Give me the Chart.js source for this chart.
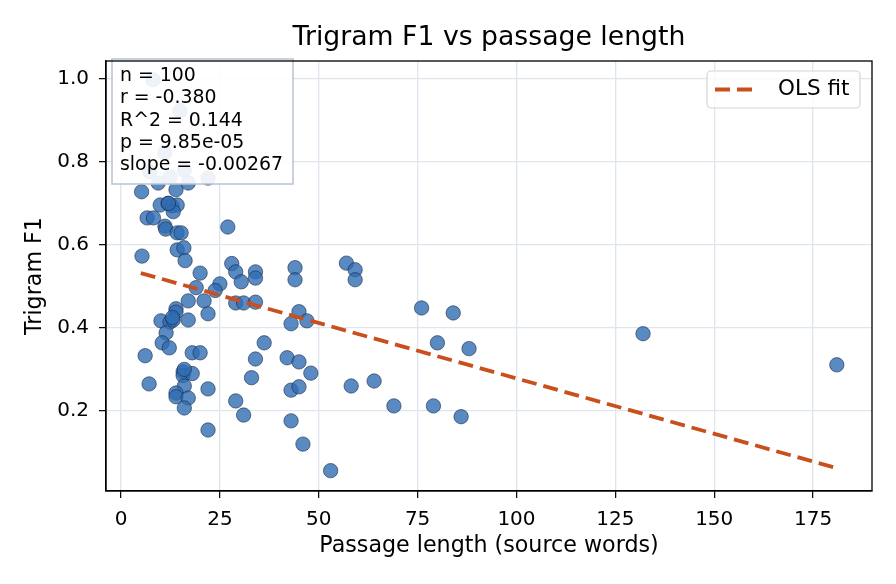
<!DOCTYPE html>
<html>
<head>
<meta charset="utf-8">
<script src="https://cdn.jsdelivr.net/npm/chart.js@4.4.0/dist/chart.umd.min.js"></script>
<style>
  html, body { margin: 0; padding: 0; background: #fff; }
  #wrap { width: 896px; height: 584px; }
</style>
</head>
<body>
<div id="wrap"><canvas id="graphCanvas" width="896" height="584"></canvas></div>
<script>
// passage length (source words) and trigram F1
var lengths = [8.1, 14.9, 11.1, 7.3, 12.4, 16, 22, 5.2, 9.4, 13.9,
               17, 9.9, 11.9, 12.9, 14.2, 13.2, 6.6, 8.2, 11.1, 11.3,
               14.2, 15.2, 27, 14.2, 15.9, 5.3, 16.2, 20, 28, 29,
               30.4, 34, 34, 19, 25, 23.8, 17, 21, 29, 31,
               34, 13.9, 13.9, 22, 10.1, 12.4, 13.2, 17, 11.4, 10.4,
               12.2, 6.1, 18, 20, 15.7, 15.7, 18, 7.1, 16, 13.9,
               13.9, 17, 16, 22, 22, 44, 44, 57, 59.2, 59.2,
               45, 47, 43, 36.2, 34, 33, 29, 31, 42, 45,
               48, 43, 45, 43, 46, 53, 58.2, 64, 69, 79,
               86, 76, 84, 80, 88, 132, 181, 13, 16, 12];
var f1s = [0.998, 0.923, 0.822, 0.776, 0.764, 0.78, 0.761, 0.728, 0.749, 0.733,
           0.749, 0.696, 0.70, 0.694, 0.696, 0.68, 0.665, 0.665, 0.645, 0.638,
           0.629, 0.629, 0.643, 0.588, 0.593, 0.573, 0.562, 0.532, 0.555, 0.535,
           0.511, 0.535, 0.52, 0.497, 0.506, 0.49, 0.465, 0.465, 0.46, 0.46,
           0.462, 0.446, 0.438, 0.434, 0.417, 0.414, 0.419, 0.419, 0.388, 0.364,
           0.352, 0.333, 0.34, 0.34, 0.294, 0.285, 0.29, 0.265, 0.26, 0.243,
           0.234, 0.231, 0.207, 0.253, 0.154, 0.545, 0.516, 0.556, 0.54, 0.516,
           0.439, 0.417, 0.41, 0.364, 0.325, 0.28, 0.224, 0.19, 0.328, 0.318,
           0.291, 0.25, 0.258, 0.176, 0.12, 0.056, 0.26, 0.272, 0.212, 0.212,
           0.186, 0.448, 0.436, 0.364, 0.35, 0.386, 0.311, 0.425, 0.30, 0.70];

// OLS fit line end points
var fitX = [5, 181];
var fitY = [0.532, 0.062];

var xTicks = [0, 25, 50, 75, 100, 125, 150, 175];
var yTicks = [0.2, 0.4, 0.6, 0.8, 1.0];

var titleText = "Trigram F1 vs passage length";
var statsLines = ["n = 100", "r = -0.380", "R^2 = 0.144", "p = 9.85e-05", "slope = -0.00267"];
var legendLabel = "OLS fit";

var FONT = "'DejaVu Sans', Verdana, sans-serif";
var LINE_COLOR = '#c94f1c';

var pts = [];
for (var ii = 0; ii < lengths.length; ii++) {
  pts.push({x: lengths[ii], y: f1s[ii]});
}
var fitPts = [];
for (var jj = 0; jj < fitX.length; jj++) {
  fitPts.push({x: fitX[jj], y: fitY[jj]});
}

var boxesPlugin = {
  id: 'boxes',
  afterDraw: function(chart) {
    var ctx = chart.ctx;
    var a = chart.chartArea;
    ctx.save();
    // title, centred over the axes like matplotlib does
    ctx.fillStyle = '#000';
    ctx.font = '26.7px ' + FONT;
    ctx.textAlign = 'center';
    ctx.textBaseline = 'middle';
    ctx.fillText(titleText, (a.left + a.right) / 2, 38);
    // stats text box
    var bx = a.left + 6, by = a.top - 2, bw = 181, bh = 125;
    ctx.fillStyle = 'rgba(255,255,255,0.9)';
    ctx.fillRect(bx, by, bw, bh);
    ctx.strokeStyle = '#b7c3d3';
    ctx.lineWidth = 1.5;
    ctx.strokeRect(bx, by, bw, bh);
    ctx.fillStyle = '#000';
    ctx.font = '18.9px ' + FONT;
    ctx.textAlign = 'left';
    for (var k = 0; k < statsLines.length; k++) {
      ctx.fillText(statsLines[k], bx + 8, by + 17 + k * 22.3);
    }
    // legend
    var lx = 707, ly = 71, lw = 153, lh = 37, r = 4;
    ctx.beginPath();
    ctx.moveTo(lx + r, ly);
    ctx.arcTo(lx + lw, ly, lx + lw, ly + lh, r);
    ctx.arcTo(lx + lw, ly + lh, lx, ly + lh, r);
    ctx.arcTo(lx, ly + lh, lx, ly, r);
    ctx.arcTo(lx, ly, lx + lw, ly, r);
    ctx.closePath();
    ctx.fillStyle = 'rgba(255,255,255,0.8)';
    ctx.fill();
    ctx.strokeStyle = '#d4d4d4';
    ctx.lineWidth = 1.2;
    ctx.stroke();
    ctx.beginPath();
    ctx.setLineDash([15, 7]);
    ctx.strokeStyle = LINE_COLOR;
    ctx.lineWidth = 3.8;
    ctx.moveTo(715, 89.5);
    ctx.lineTo(753, 89.5);
    ctx.stroke();
    ctx.setLineDash([]);
    ctx.fillStyle = '#000';
    ctx.font = '21.5px ' + FONT;
    ctx.fillText(legendLabel, 778, 89.5);
    // spines
    ctx.strokeStyle = '#000';
    ctx.lineWidth = 1.3;
    ctx.strokeRect(a.left, a.top, a.right - a.left, a.bottom - a.top);
    ctx.restore();
  }
};

var graphTarget = document.getElementById('graphCanvas');
var scatterChart = new Chart(graphTarget, {
  type: 'scatter',
  data: {
    datasets: [
      {
        type: 'line',
        label: legendLabel,
        data: fitPts,
        borderColor: LINE_COLOR,
        borderWidth: 3.8,
        borderDash: [15, 7],
        pointRadius: 0,
        fill: false,
        order: 0
      },
      {
        label: 'passages',
        data: pts,
        backgroundColor: 'rgba(47,109,179,0.8)',
        borderColor: 'rgba(20,35,60,0.8)',
        borderWidth: 0.7,
        pointRadius: 7.2,
        order: 1
      }
    ]
  },
  plugins: [boxesPlugin],
  options: {
    responsive: false,
    animation: false,
    devicePixelRatio: 1,
    layout: { padding: { top: 61, right: 24, left: 0, bottom: 0 } },
    plugins: {
      legend: { display: false },
      tooltip: { enabled: false },
      title: { display: false }
    },
    scales: {
      x: {
        type: 'linear',
        min: -3.8,
        max: 189.9,
        afterBuildTicks: function(scale) {
          scale.ticks = xTicks.map(function(v) { return {value: v}; });
        },
        afterFit: function(scale) { scale.height = 93; },
        grid: { color: '#dfe5ee', lineWidth: 1.3, tickColor: '#000', tickLength: 7, tickWidth: 1.2 },
        border: { display: true, color: '#000', width: 1.3 },
        ticks: { color: '#000', padding: 10, font: { family: FONT, size: 20 } },
        title: {
          display: true,
          text: 'Passage length (source words)',
          color: '#000',
          font: { family: FONT, size: 22.2 },
          padding: { top: 0, bottom: 24 }
        }
      },
      y: {
        type: 'linear',
        min: 0.007,
        max: 1.043,
        afterBuildTicks: function(scale) {
          scale.ticks = yTicks.map(function(v) { return {value: v}; });
        },
        afterFit: function(scale) { scale.width = 106; },
        grid: { color: '#dfe5ee', lineWidth: 1.3, tickColor: '#000', tickLength: 7, tickWidth: 1.2 },
        border: { display: true, color: '#000', width: 1.3 },
        ticks: {
          color: '#000',
          padding: 10,
          font: { family: FONT, size: 20 },
          callback: function(v) { return v.toFixed(1); }
        },
        title: {
          display: true,
          text: 'Trigram F1',
          color: '#000',
          font: { family: FONT, size: 22.2 },
          padding: { top: 22, bottom: 0 }
        }
      }
    }
  }
});
</script>
</body>
</html>
